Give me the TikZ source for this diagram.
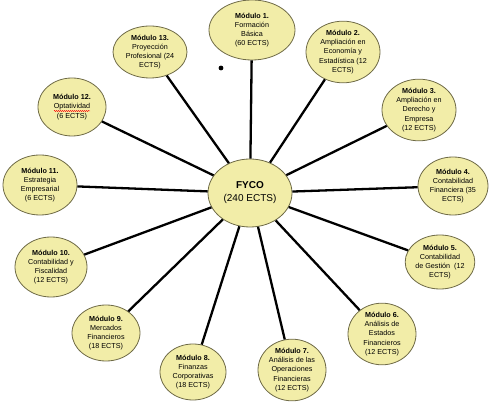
\documentclass[tikz,border=0pt]{standalone}
\usepackage{fontspec}
\setmainfont{Liberation Sans}
\usetikzlibrary{shapes.geometric,decorations.pathmorphing}
\definecolor{modfill}{RGB}{242,237,168}
\definecolor{modline}{RGB}{110,106,70}

\begin{document}
\begin{tikzpicture}[x=1pt,y=1pt,mod/.style={ellipse,draw=modline,fill=modfill,line width=.8pt,inner sep=0pt,align=center,font=\fontsize{7.2}{9.2}\selectfont},link/.style={line width=2.3pt,draw=black}]
\useasboundingbox(0,0)rectangle(495,404);

% central node and the thirteen modules around it
\node[mod,minimum width=84,minimum height=68,font=\fontsize{10}{13}\selectfont](fyco)at(250,211){\textbf{FYCO}\\(240 ECTS)};
\node[mod,minimum width=86,minimum height=60](m1)at(252,374){\textbf{Módulo 1.}\\Formación\\Básica\\(60 ECTS)};
\node[mod,minimum width=74,minimum height=60](m2)at(343,352){\textbf{Módulo 2.}\\Ampliación en\\Economía y\\Estadística (12\\ECTS)};
\node[mod,minimum width=74,minimum height=56](m3)at(419,294){\textbf{Módulo 3.}\\Ampliación en\\Derecho y\\Empresa\\(12 ECTS)};
\node[mod,minimum width=70,minimum height=58](m4)at(453,218){\textbf{Módulo 4.}\\Contabilidad\\Financiera (35\\ECTS)};
\node[mod,minimum width=66,minimum height=54](m5)at(440,142){\textbf{Módulo 5.}\\Contabilidad\\de Gestión\ \ (12\\ECTS)};
\node[mod,minimum width=68,minimum height=54](m6)at(382,70){\textbf{Módulo 6.}\\Análisis de\\Estados\\Financieros\\(12 ECTS)};
\node[mod,minimum width=68,minimum height=58](m7)at(292,34){\textbf{Módulo 7.}\\Análisis de las\\Operaciones\\Financieras\\(12 ECTS)};
\node[mod,minimum width=66,minimum height=56](m8)at(193,32){\textbf{Módulo 8.}\\Finanzas\\Corporativas\\(18 ECTS)};
\node[mod,minimum width=68,minimum height=56](m9)at(106,71){\textbf{Módulo 9.}\\Mercados\\Financieros\\(18 ECTS)};
\node[mod,minimum width=72,minimum height=60](m10)at(51,137){\textbf{Módulo 10.}\\Contabilidad y\\Fiscalidad\\(12 ECTS)};
\node[mod,minimum width=74,minimum height=60](m11)at(40,219){\textbf{Módulo 11.}\\Estrategia\\Empresarial\\(6 ECTS)};
\node[mod,minimum width=68,minimum height=58](m12)at(72,297){\textbf{Módulo 12.}\\Optatividad\\(6 ECTS)};
\node[mod,minimum width=74,minimum height=52](m13)at(150,352){\textbf{Módulo 13.}\\Proyección\\Profesional (24\\ECTS)};

\foreach \m in {m1,m2,m3,m4,m5,m6,m7,m8,m9,m10,m11,m12,m13}{
 \draw[link](fyco)--(\m);
}
% spell-check underline and stray dot
\draw[red,line width=.4pt,decorate,decoration={snake,amplitude=.6pt,segment length=2pt}]([xshift=-18pt,yshift=-4pt]m12.center)--([xshift=18pt,yshift=-4pt]m12.center);
\fill[black](221,336)circle(2.4);
\end{tikzpicture}
\end{document}
